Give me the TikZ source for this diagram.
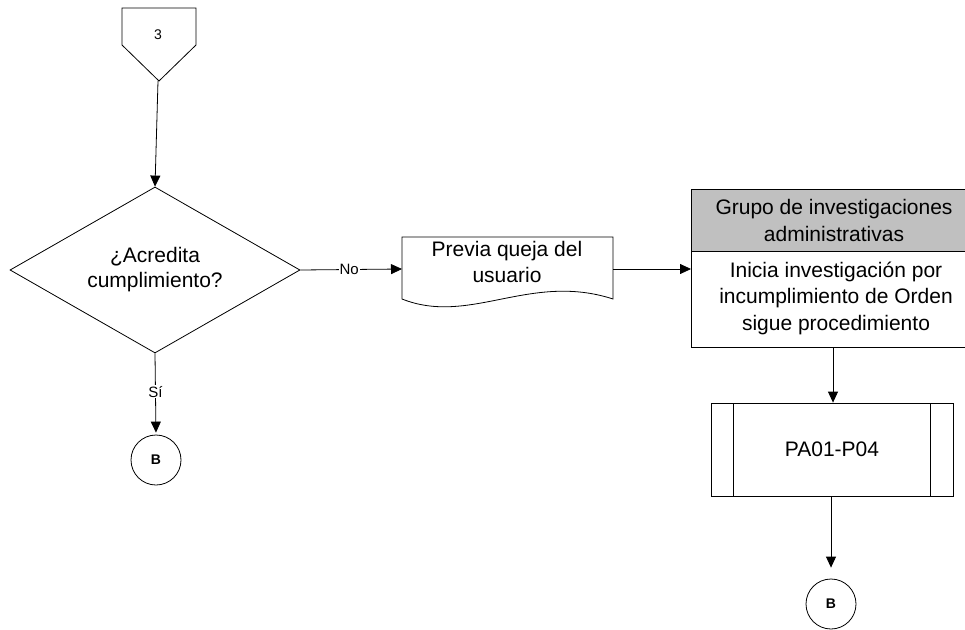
\documentclass[tikz,border=0pt]{standalone}
\usepackage{fontspec}
\setmainfont{Liberation Sans}
\usetikzlibrary{shapes.geometric,arrows.meta}
\begin{document}
\begin{tikzpicture}[x=1pt,y=-1pt,
  line/.style={draw=black, line width=0.8pt},
  arr/.style={line, -{Triangle[length=11pt,width=10pt]}},
  big/.style={font=\fontsize{21}{26}\selectfont, align=center},
  lbl/.style={font=\fontsize{15}{17}\selectfont, fill=white, inner sep=1pt},
  conn/.style={circle, line, minimum size=50pt, inner sep=0pt, font=\fontsize{14}{16}\selectfont\bfseries},
]
\useasboundingbox (0,0) rectangle (965,629);
\clip (0,0) rectangle (965,629);
\fill[white] (0,0) rectangle (965,629);

% off-page connector 3
\draw[line] (122,8) -- (196,8) -- (196,45) -- (159,81) -- (122,45) -- cycle;
\node[font=\fontsize{14}{16}\selectfont] (c3) at (158,35) {3};
\coordinate (c3tip) at (158,81);

% decision
\node[diamond, line, minimum width=290pt, minimum height=166pt, inner sep=0pt] (dec) at (155,270) {};
\node[big, font=\fontsize{21}{25}\selectfont] (dectext) at (155,270) {¿Acredita\\cumplimiento?};

% document
\draw[line] (402,237) -- (613,237) -- (613,299) .. controls (530,272) and (470,326) .. (402,299) -- cycle;
\node[big] (doc) at (507,262) {Previa queja del\\usuario};
\coordinate (docL) at (402,269);
\coordinate (docR) at (613,269);

% group box
\node[rectangle, line, fill={rgb,255:red,192;green,192;blue,192}, minimum width=284pt, minimum height=62pt, anchor=north west, inner sep=0pt] (hdr) at (691,189) {};
\node[big, font=\fontsize{21}{27}\selectfont] (hdrtext) at (834,220) {Grupo de investigaciones\\administrativas};
\node[rectangle, line, fill=white, minimum width=284pt, minimum height=96pt, anchor=north west, inner sep=0pt] (body) at (691,251) {};
\node[big, font=\fontsize{21}{26.5}\selectfont] (bodytext) at (836,298) {Inicia investigación por\\incumplimiento de Orden\\sigue procedimiento};
\coordinate (bodyL) at (691,269);
\coordinate (bodyB) at (833,347);

% predefined process
\node[rectangle, line, minimum width=242pt, minimum height=93pt, inner sep=0pt] (pp) at (832,449.5) {};
\draw[line] (733,403) -- (733,496);
\draw[line] (930,403) -- (930,496);
\node[big] (pptext) at (832,449.5) {PA01-P04};

% connectors B
\node[conn] (b1) at (156,460) {B};
\node[conn] (b2) at (831,604) {B};

% arrows
\draw[arr] (c3tip) -- (dec.north);
\draw[arr] (dec.east) -- node[lbl, pos=0.48] {No} (docL);
\draw[arr, shorten >=2pt] (dec.south) -- node[lbl, pos=0.47] {Sí} (b1.north);
\draw[arr] (docR) -- (bodyL);
\draw[arr] (bodyB) -- (bodyB |- pp.north);
\draw[arr, shorten >=11pt] (pp.south -| b2.north) -- (b2.north);
\end{tikzpicture}
\end{document}
